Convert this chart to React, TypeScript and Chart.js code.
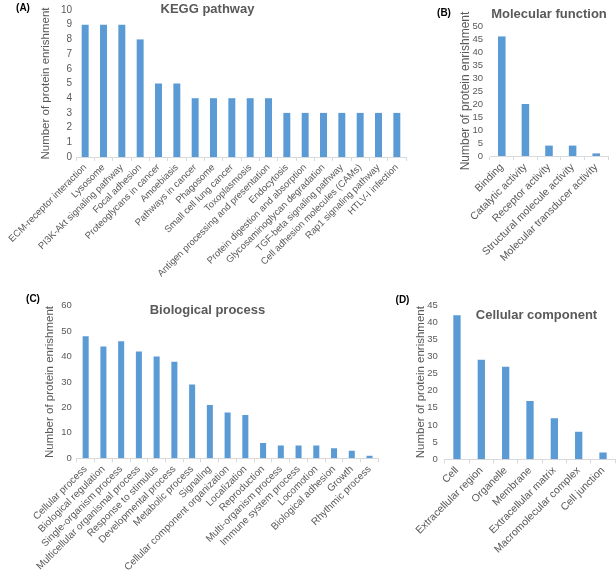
import React, { useEffect, useRef } from "react";
import { Chart, registerables } from "chart.js";

Chart.register(...registerables);

const keggLabels = [
  "ECM-receptor interaction",
  "Lysosome",
  "PI3K-Akt signaling pathway",
  "Focal adhesion",
  "Proteoglycans in cancer",
  "Amoebiasis",
  "Pathways in cancer",
  "Phagosome",
  "Small cell lung cancer",
  "Toxoplasmosis",
  "Antigen processing and presentation",
  "Endocytosis",
  "Protein digestion and absorption",
  "Glycosaminoglycan degradation",
  "TGF-beta signaling pathway",
  "Cell adhesion molecules (CAMs)",
  "Rap1 signaling pathway",
  "HTLV-I infection",
];
const keggValues = [9, 9, 9, 8, 5, 5, 4, 4, 4, 4, 4, 3, 3, 3, 3, 3, 3, 3];

const mfLabels = [
  "Binding",
  "Catalytic activity",
  "Receptor activity",
  "Structural molecule activity",
  "Molecular transducer activity",
];
const mfValues = [46, 20, 4, 4, 1];

const bpLabels = [
  "Cellular process",
  "Biological regulation",
  "Single-organism process",
  "Multicellular organismal process",
  "Response to stimulus",
  "Developmental process",
  "Metabolic process",
  "Signaling",
  "Cellular component organization",
  "Localization",
  "Reproduction",
  "Multi-organism process",
  "Immune system process",
  "Locomotion",
  "Biological adhesion",
  "Growth",
  "Rhythmic process",
];
const bpValues = [48, 44, 46, 42, 40, 38, 29, 21, 18, 17, 6, 5, 5, 5, 4, 3, 1];

const ccLabels = [
  "Cell",
  "Extracellular region",
  "Organelle",
  "Membrane",
  "Extracellular matrix",
  "Macromolecular complex",
  "Cell junction",
];
const ccValues = [42, 29, 27, 17, 12, 8, 2];

const yTitleText = "Number of protein enrishment";
const FONT = "'Liberation Sans', Arial, sans-serif";
const BAR = "#5B9BD5";
const GREY = "#595959";
const AXIS = "#D9D9D9";

type PanelProps = {
  labels: string[];
  values: number[];
  left: number;
  top: number;
  width: number;
  height: number;
  padLeft: number;
  padRight: number;
  padTop: number;
  yWidth: number;
  xHeight: number;
  yMax: number;
  yStep: number;
  yTitleSize: number;
  yTickSize: number;
  yTickPad: number;
  xTickSize: number;
  barPct: number;
};

function Panel(p: PanelProps) {
  const ref = useRef<HTMLCanvasElement | null>(null);
  useEffect(() => {
    if (!ref.current) return;
    const chart = new Chart(ref.current, {
      type: "bar",
      data: {
        labels: p.labels,
        datasets: [
          {
            data: p.values,
            backgroundColor: BAR,
            borderWidth: 0,
            barPercentage: p.barPct,
            categoryPercentage: 1,
          },
        ],
      },
      options: {
        responsive: false,
        animation: false,
        events: [],
        layout: {
          padding: { left: p.padLeft, right: p.padRight, top: p.padTop, bottom: 0 },
        },
        plugins: {
          legend: { display: false },
          tooltip: { enabled: false },
          title: { display: false },
        },
        scales: {
          x: {
            type: "category",
            offset: true,
            border: { display: true, color: AXIS, width: 1 },
            grid: {
              display: true,
              offset: true,
              drawOnChartArea: false,
              drawTicks: true,
              tickLength: 4,
              color: AXIS,
            },
            ticks: {
              autoSkip: false,
              maxRotation: 45,
              minRotation: 45,
              padding: 1,
              color: GREY,
              font: { family: FONT, size: p.xTickSize },
            },
            afterFit: (scale: any) => {
              scale.height = p.xHeight;
            },
          },
          y: {
            min: 0,
            max: p.yMax,
            border: { display: false },
            grid: { display: false, drawTicks: false },
            ticks: {
              stepSize: p.yStep,
              autoSkip: false,
              padding: p.yTickPad,
              color: GREY,
              font: { family: FONT, size: p.yTickSize },
            },
            title: {
              display: true,
              text: yTitleText,
              color: GREY,
              padding: { top: 0, bottom: 0 },
              font: { family: FONT, size: p.yTitleSize },
            },
            afterFit: (scale: any) => {
              scale.width = p.yWidth;
            },
          },
        },
      },
    } as any);
    return () => chart.destroy();
  }, []);
  return (
    <canvas
      ref={ref}
      width={p.width}
      height={p.height}
      style={{ position: "absolute", left: p.left, top: p.top, width: p.width, height: p.height }}
    />
  );
}

function Label(props: { x: number; y: number; text: string; size: number; color: string }) {
  return (
    <div
      style={{
        position: "absolute",
        left: props.x,
        top: props.y,
        transform: "translate(-50%, -50%)",
        whiteSpace: "nowrap",
        fontFamily: FONT,
        fontWeight: "bold",
        fontSize: props.size,
        color: props.color,
        lineHeight: 1,
      }}
    >
      {props.text}
    </div>
  );
}

export default function App() {
  return (
    <div
      style={{
        position: "absolute",
        left: 0,
        top: 0,
        width: 616,
        height: 579,
        background: "#ffffff",
        overflow: "hidden",
      }}
    >
      <Panel
        labels={keggLabels}
        values={keggValues}
        left={0}
        top={0}
        width={430}
        height={290}
        padLeft={39.1}
        padRight={24}
        padTop={6}
        yWidth={36.9}
        xHeight={133}
        yMax={10}
        yStep={1}
        yTitleSize={11.5}
        yTickSize={10}
        yTickPad={4}
        xTickSize={9.5}
        barPct={0.38}
      />
      <Panel
        labels={mfLabels}
        values={mfValues}
        left={430}
        top={0}
        width={186}
        height={290}
        padLeft={28.8}
        padRight={8}
        padTop={26}
        yWidth={31.2}
        xHeight={134}
        yMax={50}
        yStep={5}
        yTitleSize={12}
        yTickSize={9.5}
        yTickPad={7}
        xTickSize={10.5}
        barPct={0.32}
      />
      <Panel
        labels={bpLabels}
        values={bpValues}
        left={0}
        top={290}
        width={385}
        height={289}
        padLeft={43.1}
        padRight={6.6}
        padTop={15.7}
        yWidth={33.7}
        xHeight={120.7}
        yMax={60}
        yStep={10}
        yTitleSize={11.5}
        yTickSize={9.5}
        yTickPad={5}
        xTickSize={10}
        barPct={0.34}
      />
      <Panel
        labels={ccLabels}
        values={ccValues}
        left={385}
        top={290}
        width={231}
        height={289}
        padLeft={29.1}
        padRight={0.8}
        padTop={15}
        yWidth={30.7}
        xHeight={119.7}
        yMax={45}
        yStep={5}
        yTitleSize={11.5}
        yTickSize={9.5}
        yTickPad={7}
        xTickSize={10.5}
        barPct={0.3}
      />
      <Label x={23} y={8} text="(A)" size={10} color="#000" />
      <Label x={207.5} y={7.5} text="KEGG pathway" size={13} color={GREY} />
      <Label x={444} y={13} text="(B)" size={10} color="#000" />
      <Label x={549} y={13} text="Molecular function" size={13} color={GREY} />
      <Label x={33} y={299} text="(C)" size={10} color="#000" />
      <Label x={207.5} y={309} text="Biological process" size={13} color={GREY} />
      <Label x={402.5} y={300} text="(D)" size={10} color="#000" />
      <Label x={536.5} y={314} text="Cellular component" size={13} color={GREY} />
    </div>
  );
}
